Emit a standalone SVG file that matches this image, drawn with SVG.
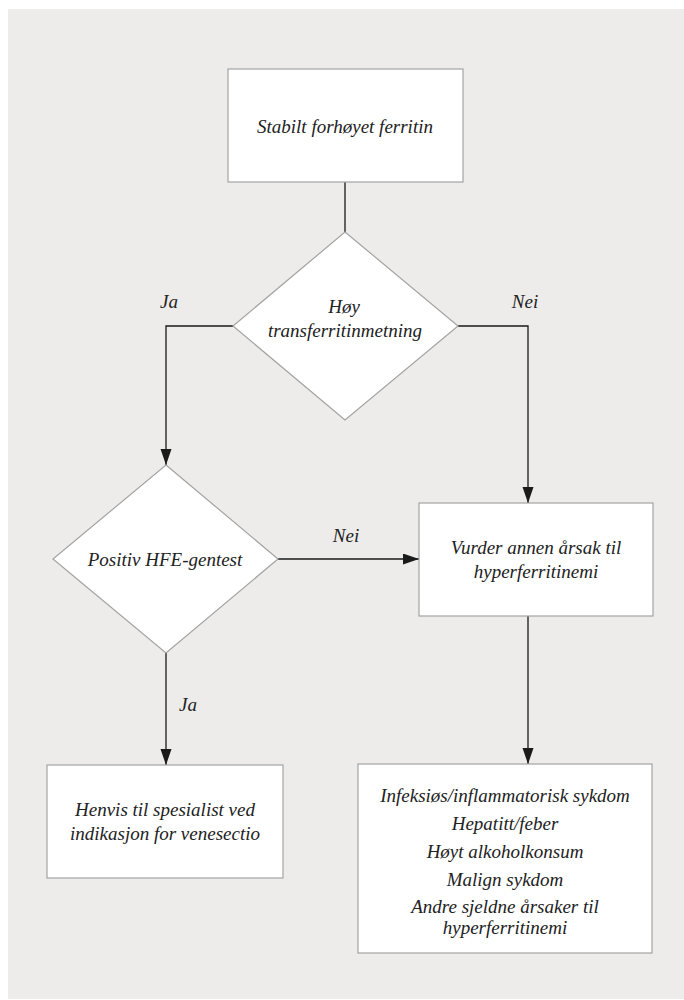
<svg xmlns="http://www.w3.org/2000/svg" width="684" height="1000" viewBox="0 0 684 1000">
<defs>
<style>
.bg{fill:#edecea}
.node{fill:#ffffff;stroke:#a3a3a3;stroke-width:1.2}
.conn{fill:none;stroke:#1a1a1a;stroke-width:1.3}
text{font-family:"Liberation Serif","DejaVu Serif",serif;font-style:italic;font-size:19px;fill:#222222;text-anchor:middle}
</style>
<marker id="arr" markerUnits="userSpaceOnUse" markerWidth="16" markerHeight="12" refX="16" refY="5.5" orient="auto">
<path d="M0,0 L16,5.5 L0,11 z" fill="#1a1a1a"/>
</marker>
</defs>
<rect class="bg" x="8" y="9" width="676" height="990"/>
<g id="connectors">
<path class="conn" d="M345,182 L345,232"/>
<path class="conn" d="M233,326 L166,326 L166,465" marker-end="url(#arr)"/>
<path class="conn" d="M458,326 L528,326 L528,503" marker-end="url(#arr)"/>
<path class="conn" d="M278,559 L419,559" marker-end="url(#arr)"/>
<path class="conn" d="M166,653 L166,765" marker-end="url(#arr)"/>
<path class="conn" d="M528,616 L528,764" marker-end="url(#arr)"/>
<text x="169" y="308">Ja</text>
<text x="525" y="308">Nei</text>
<text x="346" y="542">Nei</text>
<text x="188" y="711">Ja</text>
</g>
<g id="start">
<rect class="node" x="228" y="69" width="235" height="113"/>
<text x="345" y="133">Stabilt forhøyet ferritin</text>
</g>
<g id="q1">
<polygon class="node" points="345,232 458,326 345,420 233,326"/>
<text x="344" y="313">Høy</text>
<text x="345" y="337">transferritinmetning</text>
</g>
<g id="q2">
<polygon class="node" points="166,465 278,559 166,653 53,559"/>
<text x="165" y="566">Positiv HFE-gentest</text>
</g>
<g id="other">
<rect class="node" x="419" y="503" width="234" height="113"/>
<text x="536" y="554">Vurder annen årsak til</text>
<text x="536" y="578">hyperferritinemi</text>
</g>
<g id="refer">
<rect class="node" x="47" y="765" width="236" height="113"/>
<text x="165" y="816">Henvis til spesialist ved</text>
<text x="165" y="840">indikasjon for venesectio</text>
</g>
<g id="causes">
<rect class="node" x="358" y="764" width="294" height="189"/>
<text x="505" y="802">Infeksiøs/inflammatorisk sykdom</text>
<text x="505" y="830">Hepatitt/feber</text>
<text x="505" y="858">Høyt alkoholkonsum</text>
<text x="505" y="886">Malign sykdom</text>
<text x="505" y="913">Andre sjeldne årsaker til</text>
<text x="505" y="934">hyperferritinemi</text>
</g>
</svg>
